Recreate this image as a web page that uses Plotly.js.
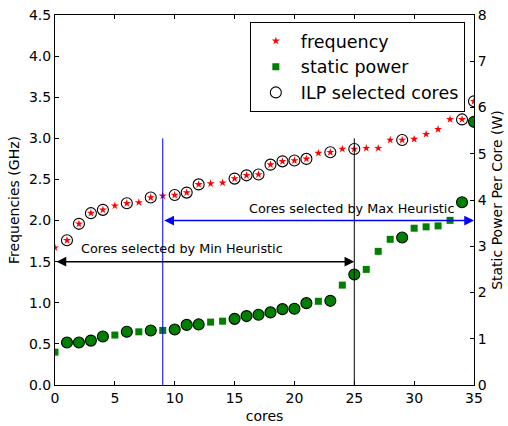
<!DOCTYPE html>
<html>
<head>
<meta charset="utf-8">
<script src="https://cdn.plot.ly/plotly-3.0.1.min.js"></script>
<style>html,body{margin:0;padding:0;background:#fff;}#chart{width:508px;height:426px;}</style>
</head>
<body>
<div id="chart"></div>
<script>
// ---- data ----
const cores = [0,1,2,3,4,5,6,7,8,9,10,11,12,13,14,15,16,17,18,19,20,21,22,23,24,25,26,27,28,29,30,31,32,33,34,35];
const frequency = [1.67,1.76,1.96,2.09,2.13,2.18,2.21,2.22,2.28,2.30,2.31,2.34,2.44,2.45,2.46,2.51,2.55,2.56,2.68,2.72,2.73,2.75,2.82,2.83,2.87,2.87,2.88,2.88,2.98,2.98,2.99,3.05,3.11,3.23,3.23,3.45];
const staticPower = [0.71,0.92,0.92,0.96,1.05,1.08,1.15,1.15,1.18,1.18,1.20,1.30,1.31,1.36,1.38,1.43,1.49,1.52,1.57,1.64,1.65,1.77,1.81,1.82,2.16,2.39,2.50,2.89,3.15,3.19,3.39,3.42,3.44,3.56,3.95,5.69];
const ilpCores = [1,2,3,4,6,8,10,11,12,15,16,17,18,19,20,21,23,25,29,34,35];
const maxHeuristicStart = 9;
const minHeuristicEnd = 25;
const lastCore = 35;
const maxArrowLevel = 2.0;
const minArrowLevel = 1.5;
const markerLineTop = 3.0;
const maxLabel = "Cores selected by Max Heuristic";
const minLabel = "Cores selected by Min Heuristic";
const xTicks = [0,5,10,15,20,25,30,35];
const yTicks = [0,0.5,1,1.5,2,2.5,3,3.5,4,4.5];
const y2Ticks = [0,1,2,3,4,5,6,7,8];

const ilpFreq = ilpCores.map(c => frequency[cores.indexOf(c)]);
const ilpPower = ilpCores.map(c => staticPower[cores.indexOf(c)]);

const FONT = "DejaVu Sans, sans-serif";

const traces = [
  {x: cores, y: frequency, type: 'scatter', mode: 'markers', name: 'frequency', legendrank: 1,
   marker: {symbol: 'star', size: 6, color: '#ff0000', line: {width: 0}}, yaxis: 'y'},
  {x: ilpCores, y: ilpFreq, type: 'scatter', mode: 'markers', name: 'ILP selected cores', legendrank: 3,
   marker: {symbol: 'circle-open', size: 11, color: '#000000', line: {width: 1.1, color: '#000'}}, yaxis: 'y'},
  {x: cores, y: staticPower, type: 'scatter', mode: 'markers', name: 'static power', legendrank: 2,
   marker: {symbol: 'square', size: 7, color: '#008000', line: {width: 0}}, yaxis: 'y2'},
  {x: ilpCores, y: ilpPower, type: 'scatter', mode: 'markers', name: 'ILP selected cores', showlegend: false,
   marker: {symbol: 'circle', size: 11, color: '#008000', line: {width: 1.1, color: '#000'}}, yaxis: 'y2'}
];

const axisCommon = {
  showgrid: false, zeroline: false, showline: true, linecolor: '#000', linewidth: 1,
  ticks: 'inside', ticklen: 4, tickcolor: '#000', tickwidth: 1,
  tickfont: {family: FONT, size: 14, color: '#000'}
};
const titleFont = {family: FONT, size: 14, color: '#000'};

const layout = {
  width: 508, height: 426,
  margin: {l: 55, r: 34, t: 15, b: 41, pad: 0},
  paper_bgcolor: '#fff', plot_bgcolor: '#fff',
  font: {family: FONT, color: '#000'},
  showlegend: true,
  legend: {x: 0.465, y: 0.981, xanchor: 'left', yanchor: 'top', bgcolor: '#fff',
    bordercolor: '#000', borderwidth: 1, font: {family: FONT, size: 17.5, color: '#000'},
    itemwidth: 40, tracegroupgap: 0, traceorder: 'normal'},
  xaxis: Object.assign({}, axisCommon, {range: [0, 35], tickvals: xTicks, mirror: 'ticks',
    automargin: false, title: {text: 'cores', font: titleFont, standoff: 6}}),
  yaxis: Object.assign({}, axisCommon, {range: [0, 4.5], tickvals: yTicks, tickformat: '.1f',
    automargin: false, title: {text: 'Frequencies (GHz)', font: titleFont, standoff: 6}}),
  yaxis2: Object.assign({}, axisCommon, {range: [0, 8], tickvals: y2Ticks, overlaying: 'y', side: 'right',
    automargin: false, title: {text: 'Static Power Per Core (W)', font: titleFont, standoff: 6}}),
  shapes: [
    {type: 'line', xref: 'x', yref: 'y', x0: maxHeuristicStart, x1: maxHeuristicStart, y0: 0, y1: markerLineTop,
     line: {color: '#0000ff', width: 1}, layer: 'above'},
    {type: 'line', xref: 'x', yref: 'y', x0: minHeuristicEnd, x1: minHeuristicEnd, y0: 0, y1: markerLineTop,
     line: {color: '#000', width: 1}, layer: 'above'}
  ],
  annotations: [
    {x: lastCore, y: maxArrowLevel, ax: maxHeuristicStart, ay: maxArrowLevel, xref: 'x', yref: 'y', axref: 'x', ayref: 'y',
     text: '', showarrow: true, arrowhead: 2, startarrowhead: 2, arrowside: 'end+start', arrowsize: 1.3, startarrowsize: 1.3,
     arrowwidth: 1.5, arrowcolor: '#0000ff', standoff: 0, startstandoff: 0},
    {x: minHeuristicEnd, y: minArrowLevel, ax: 0, ay: minArrowLevel, xref: 'x', yref: 'y', axref: 'x', ayref: 'y',
     text: '', showarrow: true, arrowhead: 2, startarrowhead: 2, arrowside: 'end+start', arrowsize: 1.3, startarrowsize: 1.3,
     arrowwidth: 1.5, arrowcolor: '#000', standoff: 0, startstandoff: 0},
    {x: 16, y: 2.15, xref: 'x', yref: 'y', text: maxLabel, showarrow: false, xanchor: 'left', yanchor: 'middle',
     font: {family: FONT, size: 12.8, color: '#000'}},
    {x: 2, y: 1.66, xref: 'x', yref: 'y', text: minLabel, showarrow: false, xanchor: 'left', yanchor: 'middle',
     font: {family: FONT, size: 12.8, color: '#000'}}
  ]
};

Plotly.newPlot('chart', traces, layout, {displayModeBar: false, staticPlot: true});
</script>
</body>
</html>
